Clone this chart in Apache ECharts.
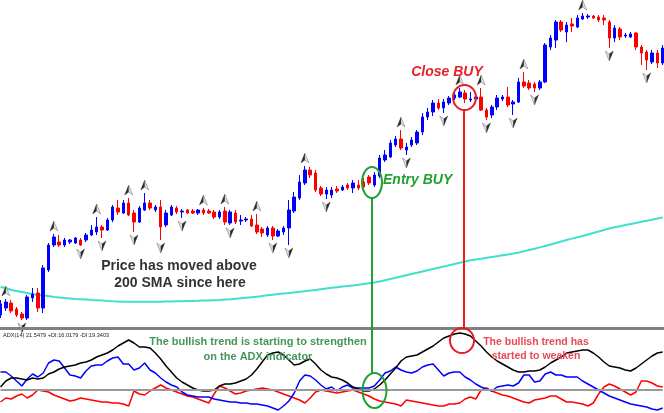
<!DOCTYPE html>
<html><head><meta charset="utf-8">
<script src="https://cdn.jsdelivr.net/npm/echarts/dist/echarts.min.js"></script>
<style>html,body{margin:0;padding:0;background:#fff}#c{width:664px;height:413px}</style>
</head><body><div id="c"></div>
<script>
// candles: [open, close, low, high]
const candles = [
[15,26,12,30],[22,28,19,31],[27,19,17,30],[21,15,13,23],[16,12,10,18],
[12,33,10,35],[32,36,28,42],[37,22,18,42],[22,62,17,65],[60,85,58,87],
[85,93,83,96],[88,85,83,95],[85,90,83,92],[88,90,86,91],[87,92,86,93],
[90,85,84,92],[90,95,88,97],[95,100,94,105],[98,103,95,113],[103,100,92,105],
[100,110,99,112],[110,123,108,125],[122,118,115,130],[117,127,116,130],[127,115,114,132],
[117,108,98,120],[108,122,107,124],[120,127,119,137],[127,122,120,130],[120,123,118,125],
[123,103,90,130],[105,117,103,120],[115,123,114,125],[122,118,116,124],[118,119,112,121],
[120,117,116,121],[119,117,116,121],[117,120,115,121],[120,117,115,122],[119,117,116,121],
[118,113,111,120],[113,118,111,120],[119,108,105,123],[107,118,105,120],[117,108,106,120],
[109,110,105,115],[110,111,108,113],[111,104,103,115],[105,98,96,116],[101,97,93,103],
[95,102,93,104],[102,94,90,104],[94,99,93,101],[98,102,95,104],[102,120,85,130],
[119,133,117,138],[132,148,130,155],[147,160,145,164],[160,155,152,163],[157,140,138,160],
[142,136,134,144],[136,140,131,143],[135,140,132,143],[141,139,137,144],[140,143,139,145],
[145,142,140,147],[142,147,137,150],[145,142,140,150],[148,143,142,152],[153,147,145,155],
[145,155,143,158],[154,172,152,175],[170,175,168,180],[173,187,172,190],[185,191,183,194],
[191,182,180,200],[180,183,175,187],[185,190,183,193],[187,198,185,200],[198,213,195,217],
[213,218,210,222],[218,227,214,230],[227,222,220,231],[222,228,217,231],[227,232,225,234],
[232,235,230,237],[233,238,232,242],[237,231,227,240],[230,231,228,238],[231,233,229,235],
[233,220,219,242],[220,213,210,222],[215,223,212,225],[223,232,220,235],[231,233,229,235],
[233,225,223,243],[226,228,215,230],[228,248,227,252],[248,244,242,258],[247,242,240,250],
[246,242,238,248],[242,248,240,250],[248,285,247,287],[283,292,280,295],[290,308,282,310],
[308,300,298,310],[298,305,288,308],[306,304,298,312],[303,312,302,315],[311,314,310,317],
[313,314,311,316],[314,312,311,315],[313,310,308,315],[312,310,305,315],[308,292,282,310],
[292,302,288,305],[301,293,290,303],[294,295,292,297],[293,296,292,298],[297,283,280,298],
[283,277,265,285],[278,270,260,280],[268,277,266,280],[277,267,262,280],[267,282,265,285]
];
const sma200 = [43,42,40,39,38,37,36,35,34.5,34, 33,32.5,32,31.5,31,30.7,30.4,30,29.7,29.4,
29,28.7,28.5,28.3,28.3,28.3,28.3,28.3,28.3,28.3, 28.3,28.4,28.5,28.7,28.8,29,29.1,29.2,29.4,29.6,
29.8,30,30.4,30.8,31.3,31.8,32.3,32.8,33.3,34, 34.7,35.3,36,36.5,37,37.6,38.2,38.8,39.4,40,
40.8,41.5,42.2,42.8,43.4,44,44.6,45.2,46,46.7, 47.4,48.6,49.8,51,52.2,53.5,54.8,56,57.2,58.5,
59.8,61,62.2,63.4,64.7,66,67.3,68.5,69.7,70.5, 71.3,72.2,73,73.8,74.7,75.5,76.4,77.4,78.7,80,
81.3,82.6,84,85.5,87,88.5,90,91.4,92.7,94, 95.5,97,98.5,100,101.5,102.7,103.8,105,106,107,
108.3,109.3,110.3,111.5,112.5];
const adx = [26,32,35,35,34,33,35,34,35,39, 41,44,46,47,48,50,51,53,56,58, 60,63,67,70,73,70,66,66,65,60,
54,47,41,35,31,28,25,23,22,22, 23,27,29,29,30,32,34,38,44,51, 58,60,61,58,53,48,49,52,54,49,
43,39,36,35,33,30,26,24,22,22, 24,28,33,39,45,52,56,57,58,61, 64,67,71,75,77,79,80,79,77,72,
67,61,56,52,49,46,43,41,41,42, 42,43,46,50,53,56,60,61,62,63, 63,60,56,51,47,46,45,43,42,45,
49,53,57,60,61];
const plusDI = [41,41,37,32,27,34,39,36,40,50, 53,52,45,38,37,35,42,47,48,48, 52,55,56,49,49,43,45,50,43,40,
35,31,28,26,21,18,17,16,16,16, 14,13,12,11,11,10,10,9,9,8, 7,5,3,7,12,20,32,38,37,33,
28,24,26,22,26,28,25,25,25,25, 27,33,40,42,46,43,41,40,42,46, 48,49,43,37,40,41,41,36,33,29,
26,24,22,26,27,28,27,30,38,38, 31,32,39,41,38,38,36,36,36,32, 29,26,23,20,17,15,13,11,9,8,
7,6,4,3,5];
const minusDI = [11,15,14,17,19,15,18,23,22,21, 18,16,14,12,13,15,14,13,12,11, 11,10,10,9,7,22,19,18,22,25,
28,25,23,21,19,17,16,14,12,10, 19,27,25,22,19,20,22,23,24,25, 24,23,21,19,17,15,13,10,15,21,
23,22,21,20,21,22,23,21,19,17, 14,12,11,10,9,7,13,12,11,10, 9,8,7,7,9,9,10,14,16,14,
23,25,22,20,18,17,15,13,11,10, 13,14,15,17,17,14,11,11,10,9, 7,10,19,26,29,27,24,21,18,21,
32,32,30,27,26];
const upFractals = [1,10,18,24,27,38,42,48,57,75,86,90,98,109];
const downFractals = [4,15,19,25,30,34,43,51,54,61,76,83,91,96,100,114,121];
const adxLevel = 23;
const adxLabel = 'ADX(14) 21.5479 +DI:16.0179 -DI:19.3403';
const categories = candles.map((_, i) => 'Bar ' + (i + 1));

const upData = upFractals.map(i => [i, candles[i][3]]);
const downData = downFractals.map(i => [i, candles[i][2]]);

const chart = echarts.init(document.getElementById('c'), null, {renderer: 'canvas'});
const hiddenX = (g) => ({type: 'category', gridIndex: g, data: categories, boundaryGap: false,
  axisLine: {show: false}, axisTick: {show: false}, axisLabel: {show: false}, splitLine: {show: false}});
const hiddenY = (g, min, max) => ({type: 'value', gridIndex: g, min, max, scale: true,
  axisLine: {show: false}, axisTick: {show: false}, axisLabel: {show: false}, splitLine: {show: false}});

const UP_FULL = 'path://M5,0 L10,12 L5,8.5 L0,12 Z';
const UP_HALF = 'path://M5,0 L5,8.5 L0,12 L5,0 Z M10,12 L10,12 Z';
const DN_FULL = 'path://M0,0 L5,3.5 L10,0 L5,12 Z';
const DN_HALF = 'path://M5,3.5 L10,0 L5,12 Z M0,0 L0,0 Z';
const F = '"Liberation Sans", Arial, sans-serif';

chart.setOption({
  animation: false,
  backgroundColor: '#ffffff',
  grid: [
    {left: 0.5, right: 1.3, top: 0, bottom: 86, containLabel: false, outerBoundsMode: 'none'},
    {left: 0.5, right: 1.3, top: 330, bottom: 0, containLabel: false, outerBoundsMode: 'none'}
  ],
  xAxis: [hiddenX(0), hiddenX(1)],
  yAxis: [hiddenY(0, 3, 330), hiddenY(1, 0, 83)],
  series: [
    {type: 'line', name: 'SMA200', xAxisIndex: 0, yAxisIndex: 0, data: sma200, symbol: 'none',
     lineStyle: {color: '#40e0d0', width: 2}, z: 1},
    {type: 'candlestick', xAxisIndex: 0, yAxisIndex: 0, data: candles, barWidth: 3,
     itemStyle: {color: '#0000ff', color0: '#ff0000', borderColor: '#0000ff', borderColor0: '#ff0000', borderWidth: 1}, z: 2},
    {type: 'scatter', xAxisIndex: 0, yAxisIndex: 0, data: upData, symbol: UP_FULL, symbolSize: [8, 10],
     symbolOffset: [0, -8], itemStyle: {color: '#d8d8d8', borderColor: '#666', borderWidth: 0.6}, z: 3},
    {type: 'scatter', xAxisIndex: 0, yAxisIndex: 0, data: upData, symbol: UP_HALF, symbolSize: [8, 10],
     symbolOffset: [0, -8], itemStyle: {color: '#000'}, z: 4},
    {type: 'scatter', xAxisIndex: 0, yAxisIndex: 0, data: downData, symbol: DN_FULL, symbolSize: [8, 10],
     symbolOffset: [0, 8], itemStyle: {color: '#d8d8d8', borderColor: '#666', borderWidth: 0.6}, z: 3},
    {type: 'scatter', xAxisIndex: 0, yAxisIndex: 0, data: downData, symbol: DN_HALF, symbolSize: [8, 10],
     symbolOffset: [0, 8], itemStyle: {color: '#000'}, z: 4},
    {type: 'line', name: '-DI', xAxisIndex: 1, yAxisIndex: 1, data: minusDI, symbol: 'none',
     lineStyle: {color: '#ff0000', width: 1.5}, z: 2,
     markLine: {silent: true, symbol: 'none', label: {show: false},
       lineStyle: {color: '#9a9a9a', width: 2, type: 'solid'}, data: [{yAxis: adxLevel}]}},
    {type: 'line', name: '+DI', xAxisIndex: 1, yAxisIndex: 1, data: plusDI, symbol: 'none',
     lineStyle: {color: '#0000ff', width: 1.5}, z: 3},
    {type: 'line', name: 'ADX', xAxisIndex: 1, yAxisIndex: 1, data: adx, symbol: 'none',
     lineStyle: {color: '#000000', width: 1.5}, z: 4}
  ],
  graphic: [
    {type: 'rect', z: 50, shape: {x: 0, y: 327, width: 664, height: 3}, style: {fill: '#808080'}},
    {type: 'text', z: 60, x: 3, y: 335.5, style: {text: adxLabel, font: '5.6px ' + F, fill: '#222', verticalAlign: 'middle'}},
    // Entry annotation
    {type: 'line', z: 60, shape: {x1: 372, y1: 198, x2: 372, y2: 373}, style: {stroke: '#22a032', lineWidth: 2}},
    {type: 'ellipse', z: 60, shape: {cx: 372, cy: 182.5, rx: 10, ry: 15.5}, style: {fill: 'transparent', stroke: '#22a032', lineWidth: 2}},
    {type: 'ellipse', z: 60, shape: {cx: 374.5, cy: 390.5, rx: 12, ry: 17.5}, style: {fill: 'transparent', stroke: '#22a032', lineWidth: 2}},
    {type: 'text', z: 60, x: 383, y: 180, style: {text: 'Entry BUY', font: 'italic bold 14px ' + F, fill: '#22a032', verticalAlign: 'middle'}},
    // Close annotation
    {type: 'line', z: 60, shape: {x1: 464, y1: 110, x2: 464, y2: 328}, style: {stroke: '#f01c1c', lineWidth: 2}},
    {type: 'ellipse', z: 60, shape: {cx: 464.5, cy: 97.5, rx: 11.5, ry: 12.5}, style: {fill: 'transparent', stroke: '#e81c24', lineWidth: 2}},
    {type: 'ellipse', z: 60, shape: {cx: 462, cy: 340.5, rx: 12, ry: 12.5}, style: {fill: 'transparent', stroke: '#e81c24', lineWidth: 2}},
    {type: 'text', z: 60, x: 447, y: 72, style: {text: 'Close BUY', font: 'italic bold 14px ' + F, fill: '#e8202a', align: 'center', verticalAlign: 'middle'}},
    // SMA note
    {type: 'text', z: 60, x: 179, y: 266, style: {text: 'Price has moved above', font: 'bold 14px ' + F, fill: '#333333', align: 'center', verticalAlign: 'middle'}},
    {type: 'text', z: 60, x: 180, y: 283.5, style: {text: '200 SMA since here', font: 'bold 14px ' + F, fill: '#333333', align: 'center', verticalAlign: 'middle'}},
    // ADX notes
    {type: 'text', z: 60, x: 258, y: 342, style: {text: 'The bullish trend is starting to strengthen', font: 'bold 11px ' + F, fill: '#45965a', align: 'center', verticalAlign: 'middle'}},
    {type: 'text', z: 60, x: 258, y: 357, style: {text: 'on the ADX indicator', font: 'bold 11px ' + F, fill: '#45965a', align: 'center', verticalAlign: 'middle'}},
    {type: 'text', z: 60, x: 536, y: 342, style: {text: 'The bullish trend has', font: 'bold 10.5px ' + F, fill: '#e84a55', align: 'center', verticalAlign: 'middle'}},
    {type: 'text', z: 60, x: 536, y: 356, style: {text: 'started to weaken', font: 'bold 10.5px ' + F, fill: '#e84a55', align: 'center', verticalAlign: 'middle'}}
  ]
});
</script>
</body></html>
